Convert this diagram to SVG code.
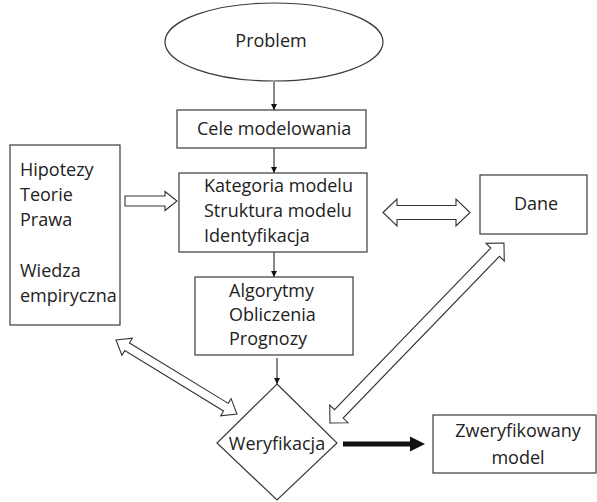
<svg xmlns="http://www.w3.org/2000/svg" width="597" height="502" viewBox="0 0 597 502">
  <style>
    .shape { fill: #ffffff; stroke: #3a3a3a; stroke-width: 1.2; }
    .label { font-family: "Open Sans", "Liberation Sans", sans-serif; font-size: 18px; fill: #222222; }
    .mid { text-anchor: middle; }
    .thin { stroke: #3a3a3a; stroke-width: 1.2; fill: none; marker-end: url(#tip); }
    .block { fill: #ffffff; stroke: #333333; stroke-width: 1.1; stroke-linejoin: miter; }
  </style>
  <defs>
    <marker id="tip" viewBox="0 0 10 10" refX="10" refY="5" markerWidth="6" markerHeight="6" markerUnits="userSpaceOnUse" orient="auto">
      <path d="M0,0 L10,5 L0,10 Z" fill="#111111"/>
    </marker>
  </defs>

  <g id="problem">
    <ellipse class="shape" cx="274" cy="42" rx="109" ry="39"/>
    <text class="label mid" x="271" y="47">Problem</text>
  </g>

  <g id="cele">
    <rect class="shape" x="177" y="110" width="189" height="38"/>
    <text class="label" x="197" y="135">Cele modelowania</text>
  </g>

  <g id="wiedza">
    <rect class="shape" x="10" y="145" width="110" height="180"/>
    <text class="label" x="20" y="176">Hipotezy</text>
    <text class="label" x="20" y="201">Teorie</text>
    <text class="label" x="20" y="226">Prawa</text>
    <text class="label" x="20" y="277">Wiedza</text>
    <text class="label" x="20" y="302">empiryczna</text>
  </g>

  <g id="kategoria">
    <rect class="shape" x="179" y="173" width="188" height="79"/>
    <text class="label" x="204" y="192">Kategoria modelu</text>
    <text class="label" x="204" y="217">Struktura modelu</text>
    <text class="label" x="204" y="242">Identyfikacja</text>
  </g>

  <g id="dane">
    <rect class="shape" x="480" y="175" width="107" height="59"/>
    <text class="label mid" x="536" y="210">Dane</text>
  </g>

  <g id="algorytmy">
    <rect class="shape" x="195" y="277" width="158" height="78"/>
    <text class="label" x="229" y="297">Algorytmy</text>
    <text class="label" x="229" y="321">Obliczenia</text>
    <text class="label" x="229" y="345">Prognozy</text>
  </g>

  <g id="weryfikacja">
    <polygon class="shape" points="277,384 337,443 277,500 217,443"/>
    <text class="label mid" x="277" y="450">Weryfikacja</text>
  </g>

  <g id="zweryfikowany">
    <rect class="shape" x="433" y="415" width="163" height="58"/>
    <text class="label mid" x="518" y="437">Zweryfikowany</text>
    <text class="label mid" x="518" y="464">model</text>
  </g>

  <g id="connectors">
    <line class="thin" x1="274" y1="82" x2="274" y2="110"/>
    <line class="thin" x1="274" y1="148" x2="274" y2="173"/>
    <line class="thin" x1="274" y1="252" x2="274" y2="277"/>
    <line class="thin" x1="277" y1="358" x2="277" y2="384"/>

    <!-- hollow block arrow: knowledge box to model category -->
    <polygon class="block" points="125,196 165,196 165,191.5 177,201 165,210.5 165,206 125,206"/>

    <!-- hollow double block arrow: model category and data -->
    <polygon class="block" transform="translate(383,212.5)"
      points="0,0 14,-13.5 14,-7 73,-7 73,-13.5 87,0 73,13.5 73,7 14,7 14,13.5"/>

    <!-- hollow double block arrow: knowledge box and verification -->
    <polygon class="block" transform="translate(116,340) rotate(31.45)"
      points="0,0 13,-10 13,-4.5 128.8,-4.5 128.8,-10 141.8,0 128.8,10 128.8,4.5 13,4.5 13,10"/>

    <!-- hollow double block arrow: verification and data -->
    <polygon class="block" transform="translate(330,423) rotate(-45.97)"
      points="0,0 12.7,-12.7 12.7,-6 237.6,-6 237.6,-12.7 250.3,0 237.6,12.7 237.6,6 12.7,6 12.7,12.7"/>

    <!-- bold arrow: verification to verified model -->
    <rect x="343" y="441.5" width="68" height="5" fill="#111111"/>
    <polygon points="410,436.5 425,444 410,451.5" fill="#111111"/>
  </g>
</svg>
